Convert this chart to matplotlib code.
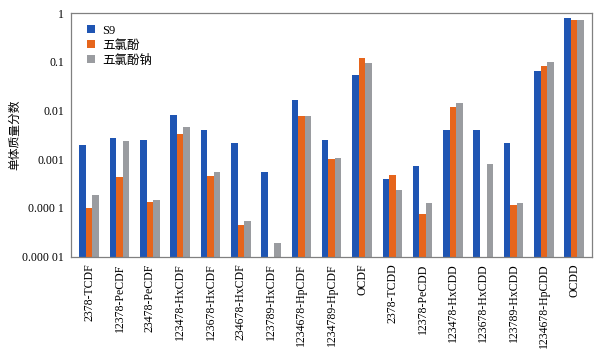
import matplotlib
matplotlib.use("Agg")
import matplotlib.pyplot as plt
import numpy as np
from matplotlib.ticker import FixedLocator, FixedFormatter

plt.rcParams["font.family"] = ["Liberation Serif", "Noto Sans CJK SC"]

congeners = [
    "2378-TCDF", "12378-PeCDF", "23478-PeCDF", "123478-HxCDF",
    "123678-HxCDF", "234678-HxCDF", "123789-HxCDF", "1234678-HpCDF",
    "1234789-HpCDF", "OCDF", "2378-TCDD", "12378-PeCDD",
    "123478-HxCDD", "123678-HxCDD", "123789-HxCDD", "1234678-HpCDD", "OCDD",
]
series_names = ["S9", "五氯酚", "五氯酚钠"]
# NaN = congener not detected for that source
s9 = [0.00195, 0.00276, 0.00245, 0.0083, 0.0039, 0.0022, 0.00054, 0.0167,
      0.00248, 0.054, 0.00040, 0.00074, 0.0039, 0.0039, 0.0022, 0.064, 0.79]
pcp = [0.00010, 0.00043, 0.00013, 0.0033, 0.00046, 0.000044, np.nan, 0.0076,
       0.0010, 0.123, 0.00048, 0.000074, 0.0118, np.nan, 0.000117, 0.083, 0.73]
na_pcp = [0.00018, 0.0024, 0.000142, 0.0045, 0.00055, 0.000055, 0.000019, 0.0079,
          0.00107, 0.097, 0.000235, 0.000125, 0.0142, 0.00081, 0.000125, 0.100, 0.73]
y_ticks = [1e-5, 1e-4, 1e-3, 1e-2, 1e-1, 1]
y_tick_labels = ["0.000 01", "0.000 1", "0.001", "0.01", "0.1", "1"]

colors = ["#1f55b3", "#e6651c", "#9a9ca0"]

fig = plt.figure(figsize=(6.02, 3.5), dpi=100)
ax = fig.add_axes([0.118, 0.267, 0.866, 0.695])

x = np.arange(len(congeners))
width = 0.215
for i, (vals, name, c) in enumerate(zip([s9, pcp, na_pcp], series_names, colors)):
    ax.bar(x + (i - 1) * width, vals, width, color=c, label=name, linewidth=0)

ax.set_yscale("log")
ax.set_ylim(1e-5, 1)
ax.set_xlim(-0.6, len(congeners) - 0.4)
ax.yaxis.set_major_locator(FixedLocator(y_ticks))
ax.yaxis.set_major_formatter(FixedFormatter(y_tick_labels))
ax.yaxis.set_minor_locator(FixedLocator([]))
ax.set_xticks(x)
ax.set_xticklabels(congeners, rotation=90, fontsize=8.5)
ax.tick_params(axis="both", length=0, pad=5)
ax.tick_params(axis="y", labelsize=8.5)
ax.set_ylabel("单体质量分数", family="Noto Sans CJK SC", fontsize=8.5)
ax.yaxis.set_label_coords(-0.095, 0.5)
for sp in ax.spines.values():
    sp.set_color("#808080")
    sp.set_linewidth(0.9)

ax.legend(loc="upper left", bbox_to_anchor=(0.01, 1.0), frameon=False,
          prop={"family": ["Liberation Serif", "Noto Sans CJK SC"], "size": 9},
          handlelength=0.6, handleheight=0.6, handletextpad=0.6,
          labelspacing=0.25)

fig.savefig("out.png", dpi=100)
